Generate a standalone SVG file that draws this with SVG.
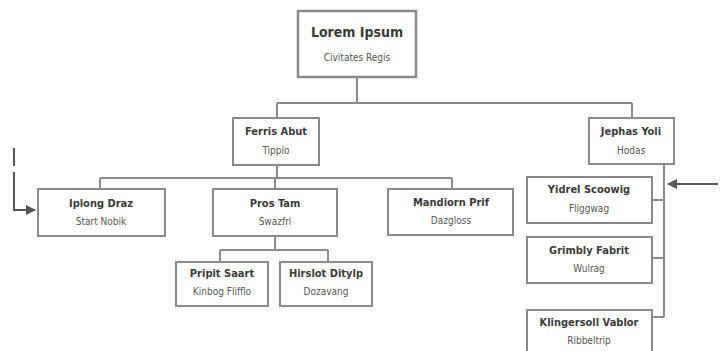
<svg xmlns="http://www.w3.org/2000/svg" width="728" height="351" viewBox="0 0 728 351">
<defs>
<style>
.box{fill:#fff;stroke:#8a8a8a;stroke-width:2}
.root{fill:#fff;stroke:#8a8a8a;stroke-width:2.5}
.t{font-family:"Liberation Sans Narrow","DejaVu Sans Condensed","Liberation Sans",sans-serif;font-weight:bold;font-size:11px;fill:#3a3a3a;text-anchor:middle}
.s{font-family:"Liberation Sans Narrow","DejaVu Sans Condensed","Liberation Sans",sans-serif;font-size:10px;fill:#555;text-anchor:middle}
.c{fill:none;stroke:#8a8a8a;stroke-width:2}
.a{fill:none;stroke:#555;stroke-width:2}
</style>
<marker id="ah" viewBox="0 0 10 10" refX="9" refY="5" markerWidth="5" markerHeight="5" orient="auto-start-reverse">
<path d="M0,0 L10,5 L0,10 z" fill="#555"/>
</marker>
</defs>
<g id="connectors">
<path class="c" d="M357,77 V103 M277,103 H632 M277,103 V118 M632,103 V118"/>
<path class="c" d="M277,165 V178 M100,178 H452 M100,178 V189 M275,178 V189 M452,178 V189"/>
<path class="c" d="M275,236 V250 M220,250 H328 M220,250 V262 M328,250 V262"/>
<path class="c" d="M664,164 V317 M652,200 H664 M652,258 H664 M652,317 H664"/>
<path class="a" d="M14,148 V210 H35" stroke-dasharray="18 6 1000" marker-end="url(#ah)"/>
<path class="a" d="M718,184 H668" marker-end="url(#ah)"/>
</g>
<g id="root"><rect class="root" x="298" y="11" width="118" height="66"/><text class="t" x="357" y="37" style="font-size:14px">Lorem Ipsum</text><text class="s" x="357" y="61">Civitates Regis</text></g>
<g id="ferris"><rect class="box" x="233" y="118" width="86" height="47"/><text class="t" x="276" y="135">Ferris Abut</text><text class="s" x="276" y="154">Tipplo</text></g>
<g id="jephas"><rect class="box" x="589" y="118" width="85" height="46"/><text class="t" x="631" y="135">Jephas Yoli</text><text class="s" x="631" y="154">Hodas</text></g>
<g id="iplong"><rect class="box" x="38" y="189" width="127" height="47"/><text class="t" x="101" y="207">Iplong Draz</text><text class="s" x="101" y="225">Start Nobik</text></g>
<g id="prostam"><rect class="box" x="213" y="189" width="124" height="47"/><text class="t" x="275" y="207">Pros Tam</text><text class="s" x="275" y="225">Swazfri</text></g>
<g id="mandiorn"><rect class="box" x="388" y="189" width="125" height="46"/><text class="t" x="451" y="206">Mandiorn Prif</text><text class="s" x="451" y="224">Dazgloss</text></g>
<g id="pripit"><rect class="box" x="176" y="262" width="92" height="44"/><text class="t" x="222" y="277">Pripit Saart</text><text class="s" x="222" y="295">Kinbog Flifflo</text></g>
<g id="hirslot"><rect class="box" x="280" y="262" width="92" height="44"/><text class="t" x="326" y="277">Hirslot Ditylp</text><text class="s" x="326" y="295">Dozavang</text></g>
<g id="yidrel"><rect class="box" x="527" y="177" width="125" height="46"/><text class="t" x="589" y="193">Yidrel Scoowig</text><text class="s" x="589" y="212">Fliggwag</text></g>
<g id="grimbly"><rect class="box" x="527" y="237" width="125" height="46"/><text class="t" x="589" y="254">Grimbly Fabrit</text><text class="s" x="589" y="272">Wulrag</text></g>
<g id="klingersoll"><rect class="box" x="527" y="310" width="125" height="46"/><text class="t" x="589" y="326">Klingersoll Vablor</text><text class="s" x="589" y="344">Ribbeltrip</text></g>
</svg>
